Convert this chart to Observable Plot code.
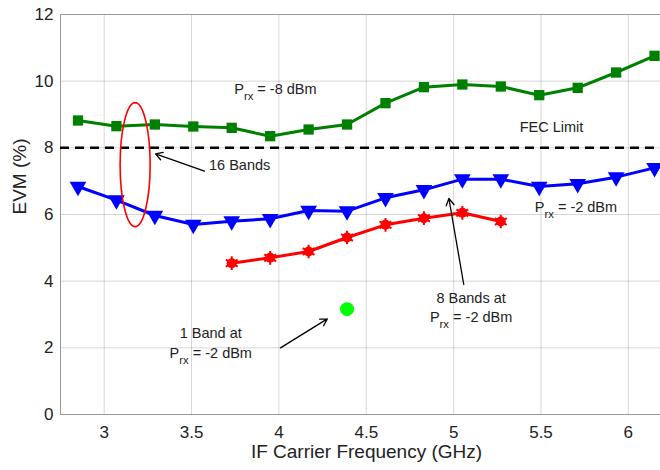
<!DOCTYPE html>
<html><head><meta charset="utf-8">
<script src="https://cdn.jsdelivr.net/npm/d3@7"></script>
<script src="https://cdn.jsdelivr.net/npm/@observablehq/plot@0.6"></script>
<style>body{margin:0;background:#fff;font-family:"Liberation Sans",Arial,sans-serif}</style>
</head><body><div id="chart"></div><script>
// ---- data ----
const freq16 = [2.85,3.07,3.29,3.51,3.73,3.95,4.17,4.39,4.61,4.83,5.05,5.27,5.49,5.71,5.93,6.15];
const evm16Prx8 = [8.82,8.65,8.70,8.64,8.60,8.35,8.55,8.70,9.34,9.82,9.90,9.84,9.58,9.80,10.26,10.76];
const evm16Prx2 = [6.84,6.43,5.97,5.70,5.80,5.87,6.12,6.10,6.50,6.74,7.06,7.06,6.84,6.92,7.12,7.40];
const freq8 = [3.73,3.95,4.17,4.39,4.61,4.83,5.05,5.27];
const evm8Prx2 = [4.54,4.70,4.89,5.31,5.69,5.89,6.05,5.79];
const freq1 = [4.39];
const evm1Prx2 = [3.16];
const fecLimit = 8;
const xTicks = [3,3.5,4,4.5,5,5.5,6];
const yTicks = [0,2,4,6,8,10,12];
const textNotes = [
  {x: 3.98, y: 9.75, text: "P_rx = -8 dBm", anchor: "middle"},
  {x: 5.56, y: 8.62, text: "FEC Limit", anchor: "middle"},
  {x: 3.60, y: 7.47, text: "16 Bands", anchor: "start"},
  {x: 5.70, y: 6.22, text: "P_rx = -2 dBm", anchor: "middle"},
  {x: 3.61, y: 2.43, text: "1 Band at", anchor: "middle"},
  {x: 3.61, y: 1.84, text: "P_rx = -2 dBm", anchor: "middle"},
  {x: 5.10, y: 3.49, text: "8 Bands at", anchor: "middle"},
  {x: 5.10, y: 2.91, text: "P_rx = -2 dBm", anchor: "middle"}
];
const arrowNotes = [
  {x1: 3.574, y1: 7.30, x2: 3.294, y2: 7.82},
  {x1: 4.009, y1: 2.00, x2: 4.277, y2: 2.87},
  {x1: 5.058, y1: 3.90, x2: 4.973, y2: 6.48}
];
const ellipseNote = {cx: 3.18, cy: 7.48, rx: 0.086, ry: 1.86};

const s16a = freq16.map((f,i)=>({f, v: evm16Prx8[i]}));
const s16b = freq16.map((f,i)=>({f, v: evm16Prx2[i]}));
const s8 = freq8.map((f,i)=>({f, v: evm8Prx2[i]}));
const s1 = freq1.map((f,i)=>({f, v: evm1Prx2[i]}));

const plot = Plot.plot({
  width: 660, height: 470,
  marginLeft: 60, marginTop: 14, marginRight: 0, marginBottom: 56,
  style: {fontFamily: "Liberation Sans, Arial, sans-serif", fontSize: "17px", color: "#222", background: "#fff"},
  x: {domain: [2.75, 6.184]},
  y: {domain: [0, 12]},
  marks: [
    Plot.gridX(xTicks, {stroke: "#000", strokeOpacity: 0.16}),
    Plot.gridY(yTicks, {stroke: "#000", strokeOpacity: 0.16}),
    Plot.frame({stroke: "#999"}),
    Plot.axisX(xTicks, {tickSize: 0, tickPadding: 11, fontSize: 17, label: null, tickFormat: d => String(d)}),
    Plot.axisY(yTicks, {tickSize: 0, tickPadding: 7, fontSize: 17, label: null}),
    Plot.ruleY([fecLimit], {stroke: "#000", strokeWidth: 2.5, strokeDasharray: "9,6"}),
    Plot.line(s16a, {x: "f", y: "v", stroke: "#008000", strokeWidth: 3}),
    Plot.dot(s16a, {x: "f", y: "v", symbol: "square", r: 5.8, fill: "#008000"}),
    Plot.line(s16b, {x: "f", y: "v", stroke: "#0000ff", strokeWidth: 3}),
    Plot.dot(s16b, {x: "f", y: "v", symbol: "triangle", rotate: 180, r: 6.2, fill: "#0000ff"}),
    Plot.line(s8, {x: "f", y: "v", stroke: "#ff0000", strokeWidth: 3}),
    Plot.dot(s8, {x: "f", y: "v", symbol: "circle", r: 5, fill: "#ff0000"}),
    Plot.dot(s8, {x: "f", y: "v", symbol: "asterisk", r: 6.5, stroke: "#ff0000", strokeWidth: 2}),
    Plot.dot(s1, {x: "f", y: "v", r: 7, fill: "#00ff00"}),
    Plot.arrow(arrowNotes, {x1: "x1", y1: "y1", x2: "x2", y2: "y2", stroke: "#000", strokeWidth: 1.3, headLength: 9}),
    Plot.text(textNotes.filter(d => d.anchor === "middle"), {x: "x", y: "y", text: "text", textAnchor: "middle", fontSize: 14.5, fill: "#222"}),
    Plot.text(textNotes.filter(d => d.anchor === "start"), {x: "x", y: "y", text: "text", textAnchor: "start", fontSize: 14.5, fill: "#222"}),
    Plot.text(["EVM (%)"], {frameAnchor: "left", dx: -41, rotate: -90, fontSize: 19, fill: "#222"}),
    Plot.text(["IF Carrier Frequency (GHz)"], {frameAnchor: "bottom", dx: 6, dy: 43, fontSize: 19, fill: "#222"})
  ]
});

// subscripts for P_rx
const ns = "http://www.w3.org/2000/svg";
plot.querySelectorAll("text").forEach(t => {
  if (t.childElementCount === 0 && t.textContent.startsWith("P_rx")) {
    const rest = t.textContent.slice(4);
    t.textContent = "P";
    const sub = document.createElementNS(ns, "tspan");
    sub.setAttribute("dy", "0.55em");
    sub.setAttribute("font-size", "0.78em");
    sub.textContent = "rx";
    const r = document.createElementNS(ns, "tspan");
    r.setAttribute("dy", "-0.43em");
    r.textContent = rest;
    t.append(sub, r);
  }
});

// red ellipse annotation via the plot's scales
const sx = plot.scale("x"), sy = plot.scale("y");
d3.select(plot).append("ellipse")
  .attr("cx", sx.apply(ellipseNote.cx))
  .attr("cy", sy.apply(ellipseNote.cy))
  .attr("rx", sx.apply(ellipseNote.cx + ellipseNote.rx) - sx.apply(ellipseNote.cx))
  .attr("ry", sy.apply(ellipseNote.cy) - sy.apply(ellipseNote.cy + ellipseNote.ry))
  .attr("fill", "none").attr("stroke", "#ff0000").attr("stroke-width", 1.6);

document.getElementById("chart").append(plot);
</script></body></html>
